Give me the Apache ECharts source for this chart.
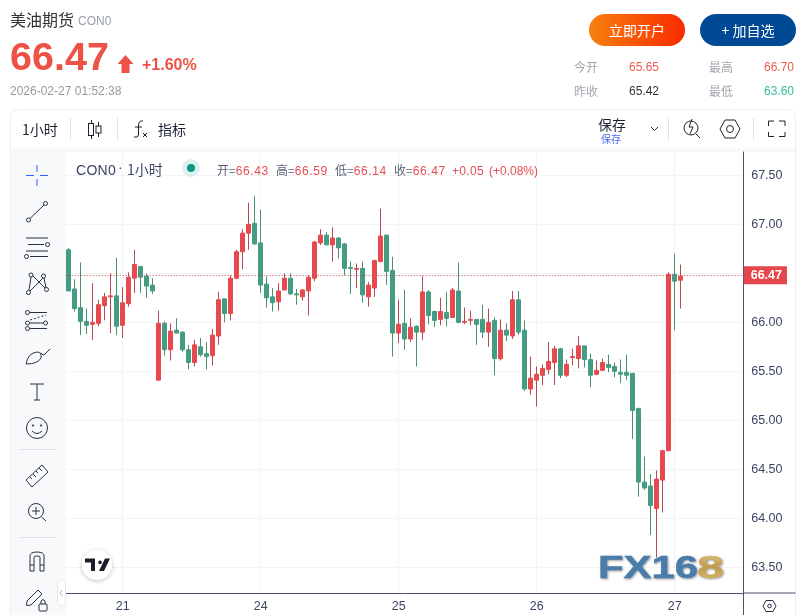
<!DOCTYPE html>
<html><head><meta charset="utf-8">
<style>
html,body{margin:0;padding:0;background:#fff;width:803px;height:615px;overflow:hidden;font-family:"Liberation Sans","Noto Sans CJK SC",sans-serif}
#chart{position:absolute;left:0;top:0;width:803px;height:615px;z-index:2}
.t{position:absolute;white-space:nowrap;line-height:1;z-index:5}
#ov{position:absolute;left:0;top:0;z-index:4;pointer-events:none}
#bg{position:absolute;left:0;top:0;z-index:0}
.cn{font-family:"Noto Sans CJK SC","Liberation Sans",sans-serif}
.num{color:#e54d52;font-family:"Liberation Sans";letter-spacing:.6px}
.btn{position:absolute;top:14px;width:96px;height:32px;border-radius:16px;color:#fff;font:14px/32px "Noto Sans CJK SC",sans-serif;text-align:center;z-index:5}
</style></head><body>
<div id="chart"></div>

<div class="t cn" style="left:10px;top:11px;font-size:16px;color:#333">美油期货</div>
<div class="t" style="left:78px;top:15px;font-size:12px;color:#9aa0a8">CON0</div>
<div class="t" style="left:10px;top:37px;font-size:39.5px;font-weight:bold;color:#ee5145">66.47</div>
<div class="t" style="left:142px;top:57px;font-size:16px;font-weight:bold;color:#ee5145">+1.60%</div>
<div class="t" style="left:10px;top:85px;font-size:12px;color:#999">2026-02-27 01:52:38</div>

<div class="btn" style="left:589px;background:linear-gradient(90deg,#f6800f,#f92a00)">立即开户</div>
<div class="btn" style="left:700px;background:#004a95">+ 加自选</div>

<div class="t cn" style="left:574px;top:61px;font-size:12px;color:#a3a6ad">今开</div>
<div class="t" style="left:629px;top:61px;font-size:12px;color:#ee5a52">65.65</div>
<div class="t cn" style="left:709px;top:61px;font-size:12px;color:#a3a6ad">最高</div>
<div class="t" style="left:764px;top:61px;font-size:12px;color:#ee5a52">66.70</div>
<div class="t cn" style="left:574px;top:85px;font-size:12px;color:#a3a6ad">昨收</div>
<div class="t" style="left:629px;top:85px;font-size:12px;color:#333">65.42</div>
<div class="t cn" style="left:709px;top:85px;font-size:12px;color:#a3a6ad">最低</div>
<div class="t" style="left:764px;top:85px;font-size:12px;color:#35bb9a">63.60</div>

<div class="t cn" style="left:22px;top:122px;font-size:14px;color:#1c2030">1小时</div>
<div class="t cn" style="left:158px;top:122px;font-size:14px;color:#1c2030">指标</div>
<div class="t cn" style="left:598px;top:117px;font-size:14px;color:#1c2030">保存</div>
<div class="t cn" style="left:601px;top:134px;font-size:10px;color:#4d6cf0">保存</div>

<div class="t" style="left:76px;top:163px;font-size:14px;color:#3c4663;letter-spacing:.3px">CON0</div>
<div class="t" style="left:118px;top:160px;font-size:14px;color:#3c4663">·</div>
<div class="t cn" style="left:127px;top:162px;font-size:14px;color:#3c4663">1小时</div>
<div class="t cn" style="left:217px;top:164px;font-size:12px;color:#5a6278">开=<span class="num">66.43</span></div>
<div class="t cn" style="left:276px;top:164px;font-size:12px;color:#5a6278">高=<span class="num">66.59</span></div>
<div class="t cn" style="left:335px;top:164px;font-size:12px;color:#5a6278">低=<span class="num">66.14</span></div>
<div class="t cn" style="left:394px;top:164px;font-size:12px;color:#5a6278">收=<span class="num">66.47</span></div>
<div class="t" style="left:452px;top:165px;font-size:12px;color:#e54d52;letter-spacing:.3px">+0.05</div>
<div class="t" style="left:489px;top:165px;font-size:12px;color:#e54d52">(+0.08%)</div>

<svg id="ov" width="803" height="615" viewBox="0 0 803 615" fill="none" stroke="#20263a" stroke-width="1">
  <defs>
    <linearGradient id="gold" x1="0" y1="0" x2="0" y2="1"><stop offset="0" stop-color="#e8cf8c"/><stop offset=".5" stop-color="#bd9a4e"/><stop offset="1" stop-color="#e3c172"/></linearGradient>
    <filter id="sh" x="-5%" y="-5%" width="110%" height="120%"><feDropShadow dx="1" dy="1" stdDeviation=".8" flood-color="#555" flood-opacity=".6"/></filter>
    <filter id="sh2" x="-40%" y="-40%" width="180%" height="180%"><feDropShadow dx="0" dy="1" stdDeviation="2" flood-color="#000" flood-opacity=".25"/></filter>
  </defs>
  <path d="M125.5 55 L133.5 64 L129.5 64 L129.5 73 L121.5 73 L121.5 64 L117.5 64 Z" fill="#ee5145" stroke="none"/>
  <path d="M70.5 118V140M117.5 118V140M668.5 118V140M753.5 118V140" stroke="#dfe2ea"/>
  <path d="M91.5 120V139M98.5 122V137" stroke="#1c2030"/><rect x="88.5" y="123.5" width="5" height="12" fill="#fff" stroke="#1c2030"/><rect x="96" y="126" width="5" height="7" fill="#fff" stroke="#1c2030"/>
  <path d="M143 121 Q139 120 138.5 125 V135 Q138 138 134 137M135 127H142M143 133L147 137M147 133L143 137" stroke="#1c2030"/>
  <path d="M651 127 L654.5 130.5 L658 127" stroke="#333"/>
  <circle cx="691" cy="128" r="7" stroke="#222"/><path d="M696 134L700 138M692 119L689 127H693L690 134" stroke="#222"/>
  <path d="M720 129 L725 120 L735 120 L740 129 L735 138 L725 138 Z" stroke="#222"/><circle cx="730" cy="129" r="3.5" stroke="#222"/>
  <path d="M768.5 126V121H774M779 121H785V126M785 132V136.5H779M774 136.5H768.5V132" stroke="#222"/>
  <circle cx="191" cy="168" r="9" fill="#dff1ec" stroke="none"/><circle cx="191" cy="168" r="4" fill="#0a9a82" stroke="none"/>
  <path d="M26 175.5H34M40 175.5H48M37 165V172M37 179V186" stroke="#2962ff"/>
  <g stroke="#2b3042">
    <circle cx="28.5" cy="220" r="2"/><circle cx="45.5" cy="203.5" r="2"/><path d="M30 218.5L44 205"/>
    <path d="M26 238H48M28 244.5H44M26 251H48M30 256.5H48"/><circle cx="47.5" cy="244.5" r="2"/><circle cx="26.5" cy="256.5" r="2"/>
    <circle cx="31" cy="275" r="2"/><circle cx="43.5" cy="276" r="2"/><circle cx="28.5" cy="292.5" r="2"/><circle cx="46.5" cy="289.5" r="2"/>
    <path d="M31 277L29 290M30 291L43 278M33 276L45 288M44 278L46 288"/>
    <circle cx="27.5" cy="312.5" r="2"/><path d="M30 312.5H47"/><circle cx="27.5" cy="323" r="2"/><circle cx="45.5" cy="323" r="2"/><circle cx="27.5" cy="328.5" r="2"/><path d="M30 323H43M30 328.5H47"/><path d="M30 320L46 315" stroke-dasharray="2 2"/>
    <path d="M26 364 Q28 353 37 352 Q42 352 41 358 Q38 364 26 364ZM40 353 L44 355 M44 355 L50 349"/>
    <path d="M30 384H44M37 384V400M34 400H40"/>
    <circle cx="37" cy="428" r="10.5"/><path d="M32 431Q37 436 42 431"/><circle cx="33" cy="425.5" r=".7" fill="#2b3042"/><circle cx="41" cy="425.5" r=".7" fill="#2b3042"/>
    <path d="M26 480 L42 465 L48 472 L32 487 Z M30 477l2 2M33 474l3 3M36 471l2 2M39 468l3 3"/>
    <circle cx="36" cy="511" r="7.5"/><path d="M41.5 517L46 521M32 511H40M36 507V515"/>
    <path d="M30 571V556Q30 552 37 552T44 556V571H40V557Q40 556 37 556T34 557V571ZM30 565H34M40 565H44"/>
    <path d="M27 601 L38 590 L42 594 L31 605 L26.5 605.5Z"/><rect x="39" y="604" width="8" height="7" rx="1"/><path d="M41 604V601Q43 598 45 601V604"/>
  </g>
  <path d="M19.5 449.5H55M19.5 537.5H55" stroke="#dde0e8"/>
  <rect x="57.5" y="580" width="8" height="26" rx="4" fill="#fff" stroke="#e4e6ee"/><path d="M62.5 590L60 593L62.5 596" stroke="#b5b9c4"/>
  <path d="M743.5 593V615M743.5 593H795.5" stroke="#4b5168"/>
  <path d="M763 606L766 600.5H773L776 606L773 611.5H766Z" stroke="#2b3042"/><circle cx="769.5" cy="606" r="1.8" stroke="#2b3042"/>
  <circle cx="97" cy="565" r="15" fill="#fff" stroke="none" filter="url(#sh2)"/>
  <path d="M85 558.5H95V571H91V562.5H85ZM100 560.5a1.8 1.8 0 1 0 .01 0ZM105 558.5H110L104 571H99Z" fill="#1a1e2a" stroke="none"/>
  <g filter="url(#sh)" font-family="Liberation Sans" font-weight="bold" font-size="32">
    <text x="598" y="578" textLength="100" lengthAdjust="spacingAndGlyphs" fill="#4a7ca8" stroke="#4a7ca8" stroke-width=".5">FX16</text>
    <text x="697" y="578" textLength="27" lengthAdjust="spacingAndGlyphs" fill="url(#gold)" stroke="#c9a65a" stroke-width=".5">8</text>
  </g>
</svg>

<svg id="bg" width="803" height="615" viewBox="0 0 803 615" fill="none">
  <rect x="10.5" y="109.5" width="785" height="520" rx="8" fill="#fff" stroke="#eceef2"/>
  <rect x="11" y="148" width="784" height="4" fill="#f8f9fb"/>
  <rect x="11" y="148" width="55" height="470" fill="#f8f9fb"/>
</svg>

<script src="https://cdn.jsdelivr.net/npm/echarts@6/dist/echarts.min.js"></script>
<script>
const opens=[66.74,66.34,66.15,66.01,65.98,65.99,66.17,66.26,66.27,65.97,66.19,66.45,66.57,66.47,66.38,
65.41,65.99,65.72,65.92,65.90,65.72,65.59,65.75,65.68,65.66,65.86,66.24,66.09,66.45,66.72,66.91,67.01,66.81,
66.39,66.26,66.21,66.33,66.45,66.29,66.26,66.32,66.45,66.81,66.89,66.79,66.86,66.80,66.56,66.54,66.55,66.26,66.35,66.62,66.89,66.53,
65.89,65.99,65.83,65.96,65.90,66.31,66.11,66.03,66.10,66.05,66.32,66.00,66.02,66.03,66.03,65.90,66.02,65.63,65.92,65.86,66.23,65.92,
65.32,65.41,65.46,65.52,65.59,65.73,65.46,65.64,65.63,65.76,65.62,65.47,65.51,65.57,65.55,65.49,65.49,65.48,65.12,64.37,64.33,64.10,64.39,64.69,66.49,66.43];
const closes=[66.32,66.14,66.01,65.97,66.00,66.18,66.26,66.27,65.96,66.20,66.46,66.59,66.46,66.37,66.32,
65.99,65.72,65.91,65.89,65.72,65.59,65.77,65.67,65.65,65.87,66.23,66.09,66.45,66.72,66.91,67.00,66.80,66.38,
66.25,66.20,66.32,66.45,66.29,66.28,66.33,66.46,66.82,66.89,66.79,66.86,66.76,66.55,66.55,66.55,66.28,66.38,66.63,66.88,66.52,65.89,
65.98,65.83,65.95,65.90,66.31,66.07,66.02,66.11,66.04,66.33,66.00,66.01,66.03,65.98,65.90,66.00,65.63,65.92,65.87,66.23,65.90,65.32,
65.43,65.47,65.53,65.60,65.73,65.46,65.57,65.65,65.76,65.62,65.46,65.51,65.59,65.54,65.50,65.47,65.46,65.10,64.37,64.31,64.13,64.40,64.69,66.49,66.42,66.47];
const lows=[66.32,66.11,65.87,65.88,65.82,65.96,66.02,65.89,65.87,65.84,66.16,66.30,66.30,66.25,66.29,
65.41,65.66,65.61,65.89,65.70,65.52,65.55,65.65,65.52,65.56,65.77,66.00,66.02,66.44,66.54,66.74,66.79,66.30,
66.15,66.11,66.12,66.33,66.28,66.18,66.22,66.07,66.42,66.79,66.79,66.62,66.65,66.48,66.29,66.35,66.20,66.16,66.26,66.62,66.38,65.65,
65.79,65.72,65.80,65.55,65.82,65.98,65.95,65.97,65.96,66.05,65.99,65.98,65.97,65.77,65.84,65.75,65.46,65.61,65.81,65.83,65.87,65.30,
65.26,65.14,65.36,65.47,65.36,65.43,65.44,65.56,65.53,65.54,65.34,65.46,65.51,65.49,65.44,65.38,65.41,64.81,64.22,64.29,63.83,63.60,64.06,64.69,65.92,66.14];
const highs=[66.76,66.44,66.61,66.14,66.40,66.23,66.30,66.50,66.66,66.36,66.51,66.74,66.57,66.50,66.45,
66.12,66.01,65.99,66.04,65.91,65.77,65.82,65.84,65.80,65.93,66.31,66.24,66.48,66.74,66.95,67.22,67.29,67.15,
66.47,66.35,66.40,66.50,66.50,66.34,66.34,66.48,66.83,66.95,66.92,66.97,66.87,66.81,66.62,66.60,66.62,66.41,66.64,67.16,66.89,66.67,
66.23,66.33,66.04,65.97,66.47,66.33,66.12,66.25,66.31,66.35,66.61,66.15,66.12,66.03,66.18,66.14,66.05,66.03,65.99,66.32,66.32,66.02,
65.65,65.55,65.57,65.80,65.76,65.74,65.62,65.73,65.86,65.76,65.68,65.61,65.63,65.67,65.59,65.62,65.67,65.48,65.13,64.63,64.45,64.49,64.70,66.51,66.70,66.59];
const dayLabels=['21','24','25','26','27'];
const dayIndexes=[9,32,55,78,101];
const blankBars=10;
const lastPrice=66.47;
const priceLineLevel=66.478;
const yTicks=[63.5,64,64.5,65,65.5,66,66.5,67,67.5];

const categories=[];
for(let i=0;i<opens.length+blankBars;i++){const k=dayIndexes.indexOf(i);categories.push(k>=0?dayLabels[k]:'');}
const wickData=opens.map((o,i)=>[o,closes[i],lows[i],highs[i]]);
const bodyData=opens.map((o,i)=>[o,closes[i],Math.min(o,closes[i]),Math.max(o,closes[i])]);
const isDay=(i,v)=>dayIndexes.indexOf(i)>=0;
const axisColor='#4b5168';
const chart=echarts.init(document.getElementById('chart'),null,{renderer:'canvas'});
chart.setOption({
  animation:false,
  backgroundColor:'transparent',
  grid:{left:65.7,top:152,width:678,height:441,containLabel:false},
  xAxis:{type:'category',data:categories,boundaryGap:true,
    axisLine:{show:true,lineStyle:{color:axisColor}},
    axisTick:{show:false,alignWithLabel:true,interval:isDay},
    splitLine:{show:true,alignWithLabel:true,interval:isDay,lineStyle:{color:'#f3f4f6'}},
    axisLabel:{interval:isDay,margin:7,color:'#3c4663',fontSize:12.5,fontFamily:'Liberation Sans',hideOverlap:false}},
  yAxis:{type:'value',position:'right',min:63.238,max:67.738,scale:true,
    axisLine:{show:true,onZero:false,lineStyle:{color:axisColor}},
    axisTick:{show:false,customValues:yTicks},
    splitLine:{show:true,lineStyle:{color:'#f3f4f6'}},
    axisLabel:{show:true,customValues:yTicks,margin:7.5,color:'#3c4663',fontSize:12.5,fontFamily:'Liberation Sans',formatter:v=>v.toFixed(2)}},
  series:[
    {name:'wick',type:'candlestick',data:wickData,barWidth:1,clip:true,
     itemStyle:{color:'#b8484f',color0:'#4b9268',borderColor:'#b8484f',borderColor0:'#4b9268',borderWidth:1},
     markLine:{silent:true,symbol:'none',animation:false,
       lineStyle:{type:[1,2],color:'#d0454c',width:1},
       label:{show:true,position:'end',distance:0,formatter:()=>lastPrice.toFixed(2),color:'#fff',backgroundColor:'#e4474d',fontSize:12.5,fontWeight:'bold',fontFamily:'Liberation Sans',padding:[3,5,2,7]},
       data:[{yAxis:priceLineLevel}]}},
    {name:'body',type:'candlestick',data:bodyData,barWidth:4,clip:true,z:3,
     itemStyle:{color:'#e64a4f',color0:'#459c85',borderColor:'#e64a4f',borderColor0:'#459c85',borderWidth:1}}
  ]
});
</script>
</body></html>
